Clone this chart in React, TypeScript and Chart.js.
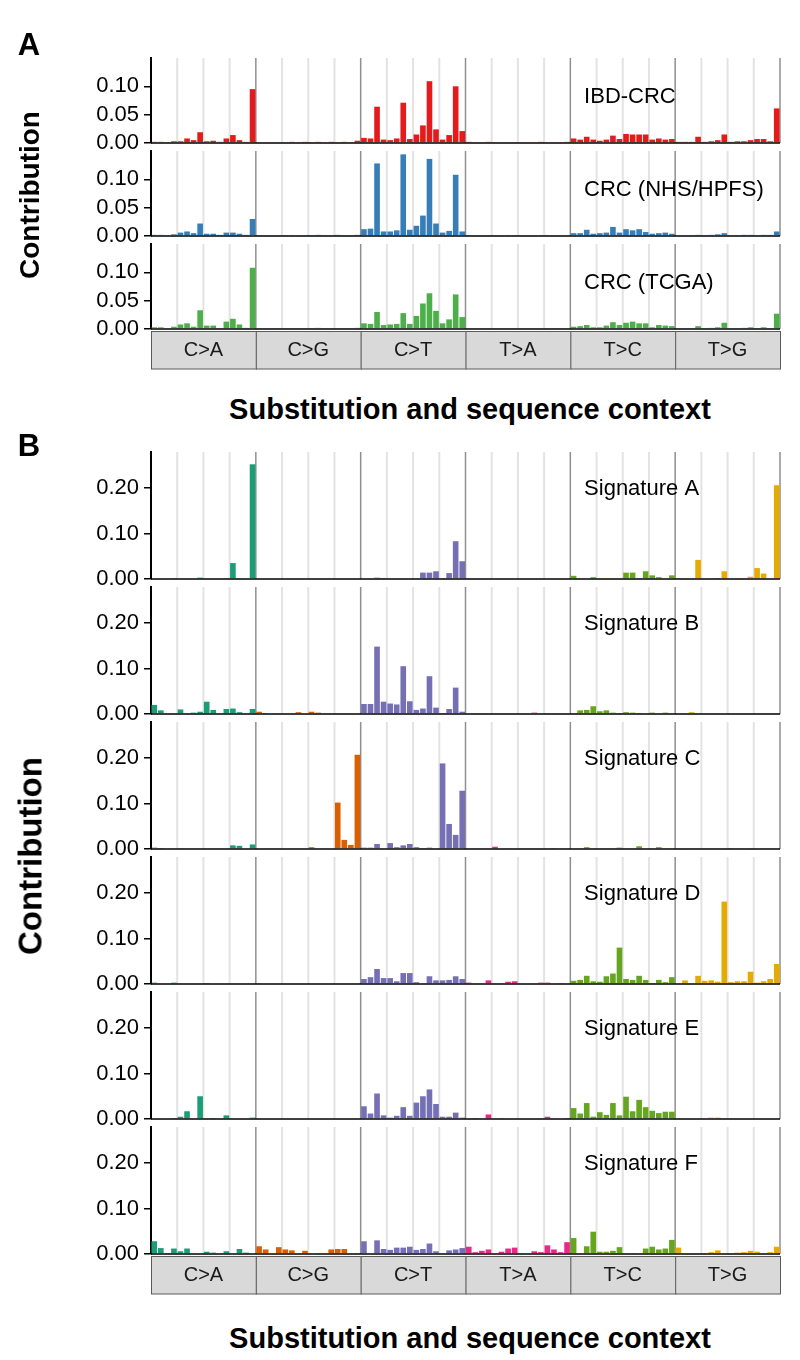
import React, { useEffect, useRef } from 'react';
import { Chart, registerables } from 'chart.js';

Chart.register(...registerables);

const FONT = "'Liberation Sans', Arial, Helvetica, sans-serif";

// ---- categories ----
const mutationTypes = ['C>A', 'C>G', 'C>T', 'T>A', 'T>C', 'T>G'];
const bases = ['A', 'C', 'G', 'T'];
const yTicksA = [0, 0.05, 0.1];
const yTicksB = [0, 0.1, 0.2];

// ---- Panel A series (6 groups of 16: C>A, C>G, C>T, T>A, T>C, T>G) ----
const ibdCrc = [
  0.002, 0.002, 0.001, 0.003, 0.003, 0.008, 0.005, 0.019, 0.003, 0.004, 0.002, 0.008, 0.014, 0.005, 0.002, 0.095,
  0.001, 0.001, 0.001, 0.001, 0.001, 0.002, 0.001, 0.002, 0.001, 0.002, 0.001, 0.002, 0.001, 0.002, 0.001, 0.004,
  0.009, 0.008, 0.064, 0.006, 0.005, 0.008, 0.071, 0.007, 0.015, 0.031, 0.109, 0.024, 0.006, 0.014, 0.100, 0.021,
  0.002, 0.001, 0.001, 0.002, 0.001, 0.001, 0.001, 0.001, 0.001, 0.001, 0.001, 0.002, 0.001, 0.001, 0.001, 0.002,
  0.008, 0.006, 0.011, 0.006, 0.004, 0.006, 0.013, 0.007, 0.016, 0.015, 0.015, 0.015, 0.006, 0.008, 0.006, 0.007,
  0.002, 0.002, 0.002, 0.011, 0.002, 0.003, 0.005, 0.015, 0.002, 0.003, 0.003, 0.005, 0.007, 0.007, 0.003, 0.061,
];
const crcNhs = [
  0.002, 0.002, 0.001, 0.003, 0.006, 0.008, 0.005, 0.022, 0.004, 0.004, 0.002, 0.006, 0.006, 0.004, 0.002, 0.030,
  0.001, 0.001, 0.001, 0.001, 0.001, 0.001, 0.001, 0.001, 0.001, 0.002, 0.001, 0.001, 0.002, 0.001, 0.001, 0.002,
  0.012, 0.013, 0.128, 0.008, 0.008, 0.010, 0.144, 0.011, 0.018, 0.036, 0.136, 0.022, 0.006, 0.009, 0.108, 0.008,
  0.001, 0.001, 0.001, 0.001, 0.001, 0.001, 0.001, 0.001, 0.001, 0.001, 0.001, 0.001, 0.001, 0.001, 0.001, 0.001,
  0.005, 0.005, 0.011, 0.004, 0.005, 0.006, 0.016, 0.006, 0.012, 0.010, 0.012, 0.007, 0.004, 0.005, 0.006, 0.004,
  0.001, 0.001, 0.001, 0.002, 0.001, 0.002, 0.003, 0.005, 0.001, 0.001, 0.002, 0.002, 0.001, 0.002, 0.002, 0.008,
];
const crcTcga = [
  0.003, 0.003, 0.001, 0.004, 0.008, 0.010, 0.004, 0.033, 0.006, 0.006, 0.001, 0.013, 0.018, 0.008, 0.002, 0.108,
  0.001, 0.001, 0.001, 0.001, 0.001, 0.001, 0.001, 0.001, 0.001, 0.002, 0.001, 0.001, 0.001, 0.001, 0.001, 0.002,
  0.010, 0.009, 0.030, 0.007, 0.008, 0.009, 0.028, 0.009, 0.023, 0.045, 0.063, 0.032, 0.010, 0.017, 0.061, 0.021,
  0.001, 0.001, 0.001, 0.001, 0.001, 0.001, 0.001, 0.001, 0.001, 0.001, 0.001, 0.001, 0.001, 0.001, 0.001, 0.001,
  0.004, 0.005, 0.007, 0.003, 0.003, 0.006, 0.012, 0.007, 0.011, 0.013, 0.010, 0.010, 0.003, 0.007, 0.006, 0.005,
  0.001, 0.001, 0.001, 0.005, 0.001, 0.002, 0.003, 0.011, 0.001, 0.001, 0.002, 0.003, 0.001, 0.003, 0.001, 0.027,
];

// ---- Panel B signatures ----
const sigA = [
  0, 0, 0, 0.002, 0, 0, 0, 0.003, 0, 0, 0, 0.002, 0.035, 0.002, 0, 0.252,
  0, 0, 0, 0, 0, 0, 0, 0, 0, 0, 0, 0, 0, 0, 0, 0,
  0, 0, 0.003, 0.001, 0, 0, 0, 0, 0, 0.014, 0.014, 0.017, 0.002, 0.013, 0.083, 0.039,
  0, 0, 0, 0, 0, 0, 0, 0, 0, 0, 0, 0, 0, 0, 0, 0,
  0.007, 0.002, 0, 0.004, 0, 0, 0, 0, 0.014, 0.014, 0.002, 0.017, 0.008, 0.004, 0, 0.008,
  0.002, 0.002, 0, 0.042, 0, 0, 0.001, 0.017, 0, 0.002, 0, 0.005, 0.024, 0.012, 0, 0.206,
];
const sigB = [
  0.020, 0.008, 0.002, 0, 0.010, 0.002, 0.003, 0.005, 0.027, 0.009, 0, 0.011, 0.012, 0.004, 0, 0.011,
  0.005, 0.001, 0, 0, 0, 0, 0.004, 0, 0.005, 0.003, 0, 0, 0, 0, 0, 0,
  0.022, 0.022, 0.148, 0.027, 0.023, 0.021, 0.105, 0.028, 0.009, 0.012, 0.083, 0.014, 0.002, 0.011, 0.058, 0.005,
  0, 0, 0, 0, 0, 0, 0, 0, 0, 0, 0.003, 0, 0.002, 0, 0, 0,
  0.002, 0.008, 0.009, 0.017, 0.006, 0.008, 0.003, 0.001, 0.004, 0.003, 0.001, 0, 0.003, 0, 0.003, 0,
  0, 0, 0.004, 0, 0, 0, 0, 0, 0.002, 0, 0.002, 0, 0, 0.002, 0.002, 0.002,
];
const sigC = [
  0.003, 0.001, 0, 0, 0.002, 0, 0, 0, 0, 0, 0, 0, 0.008, 0.007, 0, 0.010,
  0, 0, 0, 0, 0, 0, 0, 0, 0.004, 0, 0, 0, 0.102, 0.020, 0.009, 0.207,
  0.003, 0.003, 0.011, 0, 0.013, 0.004, 0.008, 0.011, 0.004, 0.001, 0.003, 0, 0.188, 0.055, 0.031, 0.128,
  0, 0, 0, 0, 0.005, 0, 0, 0, 0, 0, 0, 0, 0, 0.002, 0, 0,
  0, 0, 0.004, 0, 0, 0, 0, 0.003, 0, 0, 0.006, 0, 0, 0.004, 0, 0,
  0.001, 0, 0, 0, 0, 0, 0, 0, 0.001, 0, 0, 0.002, 0, 0, 0, 0,
];
const sigD = [
  0.003, 0, 0, 0.003, 0, 0, 0, 0, 0.001, 0, 0, 0, 0, 0, 0, 0,
  0.002, 0, 0, 0, 0, 0, 0, 0, 0, 0, 0, 0, 0, 0, 0, 0,
  0.011, 0.015, 0.033, 0.013, 0.013, 0.006, 0.024, 0.024, 0.004, 0, 0.017, 0.008, 0.008, 0.009, 0.017, 0.011,
  0.003, 0, 0, 0.008, 0, 0.002, 0.005, 0.006, 0, 0, 0, 0.003, 0.003, 0, 0.002, 0,
  0.007, 0.009, 0.018, 0.006, 0.005, 0.017, 0.023, 0.080, 0.011, 0.009, 0.018, 0.009, 0.001, 0.009, 0.004, 0.015,
  0, 0.008, 0, 0.018, 0.007, 0.008, 0.005, 0.181, 0.004, 0.006, 0.006, 0.027, 0.003, 0.006, 0.011, 0.044,
];
const sigE = [
  0, 0, 0, 0.001, 0.005, 0.017, 0, 0.050, 0, 0.001, 0, 0.008, 0, 0, 0, 0.003,
  0, 0, 0, 0, 0, 0, 0, 0, 0, 0, 0, 0, 0, 0, 0, 0,
  0.028, 0.012, 0.056, 0.008, 0.003, 0.007, 0.026, 0.007, 0.036, 0.050, 0.065, 0.033, 0.005, 0.005, 0.014, 0.003,
  0, 0.001, 0, 0.010, 0, 0.002, 0, 0, 0, 0, 0, 0, 0.005, 0, 0, 0.001,
  0.024, 0.012, 0.035, 0.005, 0.015, 0.009, 0.035, 0.008, 0.049, 0.017, 0.042, 0.026, 0.018, 0.013, 0.016, 0.016,
  0, 0, 0, 0, 0, 0.003, 0.003, 0, 0, 0, 0, 0, 0, 0, 0, 0,
];
const sigF = [
  0.028, 0.013, 0.001, 0.012, 0.006, 0.012, 0, 0, 0.005, 0.003, 0, 0.006, 0, 0.011, 0.003, 0,
  0.017, 0.010, 0, 0.015, 0.010, 0.008, 0, 0.007, 0, 0.002, 0, 0.010, 0.011, 0.011, 0, 0.002,
  0.028, 0, 0.030, 0.011, 0.009, 0.014, 0.014, 0.016, 0.009, 0.011, 0.023, 0.006, 0, 0.008, 0.010, 0.013,
  0.016, 0.004, 0.007, 0.010, 0, 0.005, 0.012, 0.014, 0.002, 0, 0.006, 0.004, 0.019, 0.010, 0.004, 0.026,
  0.035, 0, 0.017, 0.049, 0.005, 0.005, 0.007, 0.015, 0, 0.002, 0, 0.012, 0.016, 0.010, 0.012, 0.031,
  0.014, 0, 0, 0, 0.001, 0.004, 0.008, 0, 0, 0.003, 0.004, 0.007, 0.005, 0, 0.004, 0.016,
];

const typeColors = ['#1b9e77', '#d95f02', '#7570b3', '#e7298a', '#66a61e', '#e6ab02'];

// category labels built from the base/type lists
const contexts: string[] = [];
mutationTypes.forEach((mt) => {
  bases.forEach((b5) => {
    bases.forEach((b3) => {
      contexts.push(`${b5}[${mt}]${b3}`);
    });
  });
});

type RowSpec = {
  label: string;
  values: number[];
  colors: string | string[];
  top: number;
  height: number;
  yMax: number;
  ticks: number[];
  labelY: number;
  strip: boolean;
};

const byTypeColors = contexts.map((_, i) => typeColors[Math.floor(i / 16)]);

const rows: RowSpec[] = [
  { label: 'IBD-CRC', values: ibdCrc, colors: '#e41a1c', top: 58, height: 85, yMax: 0.1499, ticks: yTicksA, labelY: 0.082, strip: false },
  { label: 'CRC (NHS/HPFS)', values: crcNhs, colors: '#377eb8', top: 151, height: 85, yMax: 0.1499, ticks: yTicksA, labelY: 0.082, strip: false },
  { label: 'CRC (TCGA)', values: crcTcga, colors: '#4daf4a', top: 244, height: 85, yMax: 0.1499, ticks: yTicksA, labelY: 0.082, strip: true },
  { label: 'Signature A', values: sigA, colors: byTypeColors, top: 452, height: 127, yMax: 0.279, ticks: yTicksB, labelY: 0.197, strip: false },
  { label: 'Signature B', values: sigB, colors: byTypeColors, top: 587, height: 127, yMax: 0.279, ticks: yTicksB, labelY: 0.197, strip: false },
  { label: 'Signature C', values: sigC, colors: byTypeColors, top: 722, height: 127, yMax: 0.279, ticks: yTicksB, labelY: 0.197, strip: false },
  { label: 'Signature D', values: sigD, colors: byTypeColors, top: 857, height: 127, yMax: 0.279, ticks: yTicksB, labelY: 0.197, strip: false },
  { label: 'Signature E', values: sigE, colors: byTypeColors, top: 992, height: 127, yMax: 0.279, ticks: yTicksB, labelY: 0.197, strip: false },
  { label: 'Signature F', values: sigF, colors: byTypeColors, top: 1127, height: 127, yMax: 0.279, ticks: yTicksB, labelY: 0.197, strip: true },
];

const LABEL_X = 65.6;
const PAD_TOP = 20;
const STRIP_H = 41;

function SpectrumRow({ row }: { row: RowSpec }) {
  const ref = useRef<HTMLCanvasElement | null>(null);
  const padBottom = row.strip ? 0 : 20;
  const canvasH = PAD_TOP + row.height + padBottom + (row.strip ? STRIP_H : 0);

  useEffect(() => {
    if (!ref.current) return;
    const decor = {
      id: 'decor',
      beforeDraw(chart: any) {
        if (!row.strip) return;
        const x2 = chart.scales.x2;
        const ctx = chart.ctx;
        const half = (x2.getPixelForValue(1) - x2.getPixelForValue(0)) / 2;
        ctx.save();
        mutationTypes.forEach((_, i) => {
          const cx = x2.getPixelForValue(i);
          const x0 = cx - half;
          const y0 = x2.top + 2.5;
          ctx.fillStyle = '#d9d9d9';
          ctx.fillRect(x0, y0, half * 2, 37.5);
          ctx.strokeStyle = '#5a5a5a';
          ctx.lineWidth = 1;
          ctx.strokeRect(x0 + 0.5, y0, half * 2, 37.5);
        });
        ctx.restore();
      },
      beforeDatasetsDraw(chart: any) {
        const xs = chart.scales.x;
        const { top, bottom } = chart.chartArea;
        const ctx = chart.ctx;
        const w = xs.getPixelForValue(1) - xs.getPixelForValue(0);
        ctx.save();
        for (let i = 4; i <= contexts.length; i += 4) {
          const px = xs.getPixelForValue(i) - w / 2;
          const facet = i % 16 === 0;
          ctx.strokeStyle = facet ? '#8f8f8f' : '#e3e3e3';
          ctx.lineWidth = facet ? 1.5 : 2;
          ctx.beginPath();
          ctx.moveTo(px, top);
          ctx.lineTo(px, bottom);
          ctx.stroke();
        }
        ctx.restore();
      },
      afterDatasetsDraw(chart: any) {
        const xs = chart.scales.x;
        const ys = chart.scales.y;
        const { left, right, bottom } = chart.chartArea;
        const ctx = chart.ctx;
        ctx.save();
        ctx.strokeStyle = '#000';
        ctx.lineWidth = 1.5;
        ctx.beginPath();
        ctx.moveTo(left, bottom);
        ctx.lineTo(right, bottom);
        ctx.stroke();
        ctx.fillStyle = '#000';
        ctx.font = `22px ${FONT}`;
        ctx.textBaseline = 'middle';
        ctx.textAlign = 'left';
        ctx.fillText(row.label, xs.getPixelForValue(LABEL_X), ys.getPixelForValue(row.labelY));
        ctx.restore();
      },
    };

    const chart = new Chart(ref.current, {
      type: 'bar',
      data: {
        labels: contexts,
        datasets: [
          {
            data: row.values,
            backgroundColor: row.colors as any,
            borderWidth: 0,
            barPercentage: 0.86,
            categoryPercentage: 1,
          },
        ],
      },
      options: {
        responsive: false,
        animation: false,
        devicePixelRatio: 1,
        events: [],
        layout: { padding: { left: 0, right: 20, top: PAD_TOP, bottom: padBottom } },
        plugins: { legend: { display: false }, tooltip: { enabled: false } },
        scales: {
          x: {
            type: 'category',
            display: false,
            offset: true,
            grid: { display: false },
          },
          x2: {
            type: 'category',
            labels: mutationTypes,
            display: row.strip,
            position: 'bottom',
            offset: true,
            grid: { display: false, drawTicks: false },
            border: { display: false },
            ticks: {
              font: { family: FONT, size: 20 },
              color: '#1a1a1a',
              padding: 9,
              maxRotation: 0,
              autoSkip: false,
            },
            afterFit: (s: any) => {
              s.height = row.strip ? STRIP_H : 0;
            },
          },
          y: {
            min: 0,
            max: row.yMax,
            afterBuildTicks: (s: any) => {
              s.ticks = row.ticks.map((v) => ({ value: v }));
            },
            ticks: {
              includeBounds: false,
              autoSkip: false,
              color: '#000',
              font: { family: FONT, size: 22 },
              padding: 5,
              callback: (v: any) => Number(v).toFixed(2),
            },
            grid: { drawOnChartArea: false, drawTicks: true, tickLength: 7, color: '#000', lineWidth: 1.5 },
            border: { display: true, color: '#000', width: 2 },
            afterFit: (s: any) => {
              s.width = 151;
            },
          },
        },
      },
      plugins: [decor],
    } as any);
    return () => chart.destroy();
  }, []);

  return (
    <canvas
      ref={ref}
      width={800}
      height={canvasH}
      style={{ position: 'absolute', left: 0, top: row.top - PAD_TOP, width: 800, height: canvasH }}
    />
  );
}

function Text({ x, y, size, children, rotate }: { x: number; y: number; size: number; children: any; rotate?: boolean }) {
  return (
    <div
      style={{
        position: 'absolute',
        left: x,
        top: y,
        transform: `translate(-50%, -50%)${rotate ? ' rotate(-90deg)' : ''}`,
        fontFamily: FONT,
        fontWeight: 'bold',
        fontSize: size,
        lineHeight: 1,
        whiteSpace: 'nowrap',
        color: '#000',
      }}
    >
      {children}
    </div>
  );
}

export default function App() {
  return (
    <div style={{ position: 'absolute', left: 0, top: 0, width: 800, height: 1360, background: '#fff', overflow: 'hidden' }}>
      {rows.map((r) => (
        <SpectrumRow key={r.label} row={r} />
      ))}
      <Text x={29} y={44} size={31}>A</Text>
      <Text x={29} y={445} size={31}>B</Text>
      <Text x={30} y={195} size={28} rotate>Contribution</Text>
      <Text x={30} y={856} size={33} rotate>Contribution</Text>
      <Text x={470} y={409} size={29}>Substitution and sequence context</Text>
      <Text x={470} y={1338} size={29}>Substitution and sequence context</Text>
    </div>
  );
}
